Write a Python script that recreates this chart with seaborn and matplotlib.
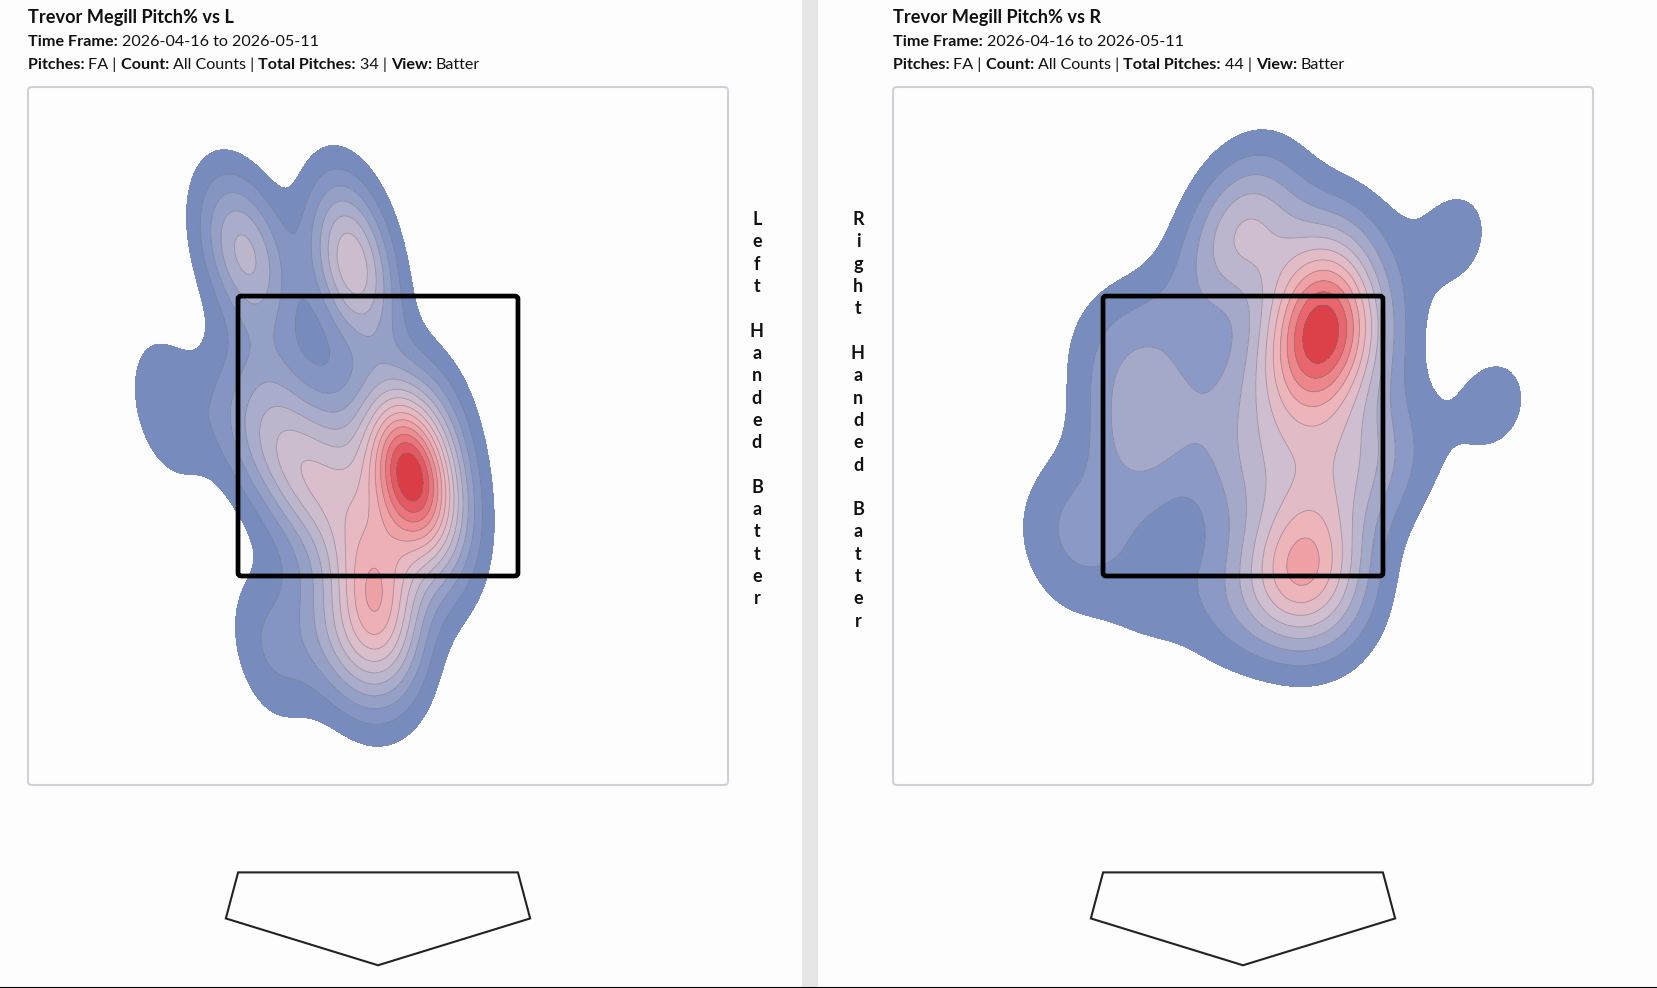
from matplotlib.lines import Line2D
from matplotlib.patches import FancyBboxPatch, Polygon, Rectangle
import matplotlib.pyplot as plt
import numpy as np
import pandas as pd
import seaborn as sns
from seaborn._statistics import KDE

# pitch locations, feet from the plate centre / feet above the plate
left_x = [-0.67, -0.61, -0.75, -0.14, -0.17, -0.09, -0.12, -1.06, 0.12, 0.15, 0.18, 0.13,
          0.17, 0.09, 0.19, 0.31, -0.52, -0.52, -0.37, -0.33, -0.70, -0.19, -0.05, -0.17,
          -0.03, 0.01, 0.04, -0.07, 0.09, -0.13, -0.55, -0.30, 0.26, 0.36]
left_z = [3.18, 3.06, 3.18, 3.24, 3.03, 2.93, 3.14, 2.35, 2.11, 2.07, 2.01, 2.03,
          1.95, 1.98, 2.13, 2.30, 2.42, 2.04, 2.04, 1.94, 2.28, 1.88, 1.62, 2.19,
          1.43, 1.33, 1.23, 1.18, 1.53, 1.10, 1.13, 1.25, 1.68, 1.88]

right_x = [0.38, 0.41, 0.37, 0.43, 0.39, 0.33, 0.46, 0.44, 0.36, 0.28, 0.52, 0.38, 0.10, 0.60,
           0.28, 0.33, 0.26, 0.36, 0.23, 0.44, 0.16, 0.08, 0.28, -0.02, 0.49, 1.07, 1.27, 0.76,
           -0.35, -0.08, -0.48, -0.50, 0.00, -0.17, -0.58, -0.93, -0.78, -0.43, -0.07, 0.50,
           -0.68, -0.02, 0.10, 0.64]
right_z = [2.88, 2.80, 2.72, 2.67, 2.60, 2.75, 2.75, 2.93, 2.52, 2.29, 2.00, 2.09, 2.10, 2.20,
           1.73, 1.63, 1.53, 1.43, 1.38, 1.53, 1.58, 3.45, 3.15, 3.20, 3.15, 3.22, 2.37, 2.04,
           2.80, 3.15, 2.29, 2.05, 3.25, 2.34, 2.39, 1.83, 1.58, 1.45, 1.36, 1.32,
           2.69, 1.99, 2.55, 2.64]

left_title = "Trevor Megill Pitch% vs L"
right_title = "Trevor Megill Pitch% vs R"
time_frame = "2026-04-16 to 2026-05-11"
left_total = "34"
right_total = "44"
left_side = "Left Handed Batter"
right_side = "Right Handed Batter"

W, H = 1658, 988
FT = 197.6  # px per foot
BW = 0.78

sns.set_theme(style="white")
plt.rcParams["font.family"] = ["Lato", "DejaVu Sans"]

BG = "#fdfdfd"
cmap = sns.blend_palette(["#7088BA", "#8C9AC6", "#B4B3CC", "#D4C0CF", "#EDB8BF", "#F09A9E",
                          "#E96A70", "#D62E38"], as_cmap=True)

fig = plt.figure(figsize=(W / 100, H / 100), dpi=100, facecolor=BG)


def runs(x, y, parts, size):
    # bold / regular pieces on one line, each placed after the previous
    rend = fig.canvas.get_renderer()
    for s, bold in parts:
        t = fig.text(x / W, 1 - y / H, s, fontsize=size, va="baseline", color="#111111",
                     fontweight="bold" if bold else "normal")
        x = t.get_window_extent(rend).x1


def even_levels(xs, zs, n):
    # seaborn wants iso-proportions, the reference has evenly spaced densities
    dens, _ = KDE(bw_adjust=BW, gridsize=250, cut=4)(np.array(xs), np.array(zs))
    steps = dens.max() * np.arange(1, n) / n
    props = [dens[dens < v].sum() / dens.sum() for v in steps]
    return props + [1]


def panel(x0, xs, zs, title, total, n):
    ax = fig.add_axes([x0 / W, 1 - 785 / H, 700 / W, 698 / H])
    df = pd.DataFrame({"x": xs, "z": zs})
    levels = even_levels(xs, zs, n)
    sns.kdeplot(data=df, x="x", y="z", fill=True, levels=levels, cmap=cmap, gridsize=250,
                cut=4, bw_adjust=BW, ax=ax)
    sns.kdeplot(data=df, x="x", y="z", levels=levels[1:-1], colors="#6f6f80", linewidths=0.6,
                alpha=0.55, gridsize=250, cut=4, bw_adjust=BW, ax=ax)
    ax.set_xlim(-350 / FT, 350 / FT)
    ax.set_ylim(1.5 - 209 / FT, 1.5 + 489 / FT)
    ax.set_xticks([])
    ax.set_yticks([])
    ax.set_xlabel("")
    ax.set_ylabel("")
    ax.set_facecolor(BG)
    for s in ax.spines.values():
        s.set_visible(False)
    # panel frame
    ax.add_patch(FancyBboxPatch((-350 / FT, 1.5 - 209 / FT), 700 / FT, 698 / FT,
                                boxstyle="round,pad=0,rounding_size=0.02", fc="none",
                                ec="#ced2d8", lw=1.5, clip_on=False, zorder=4))
    # strike zone
    ax.add_patch(FancyBboxPatch((-17 / 24, 1.5), 17 / 12, 17 / 12,
                                boxstyle="round,pad=0,rounding_size=0.015", fc="none",
                                ec="black", lw=3.4, zorder=5))
    # home plate
    ax.add_patch(Polygon([(-0.708, 0), (0.708, 0), (0.77, -0.233), (0, -0.47), (-0.77, -0.233)],
                         closed=True, fc="none", ec="#222222", lw=1.5, clip_on=False))
    runs(x0, 23, [(title, True)], 13.1)
    runs(x0, 46, [("Time Frame: ", True), (time_frame, False)], 11.6)
    runs(x0, 69, [("Pitches: ", True), ("FA | ", False), ("Count: ", True),
                  ("All Counts | ", False), ("Total Pitches: ", True), (total + " | ", False),
                  ("View: ", True), ("Batter", False)], 11.6)
    return ax


fig.canvas.draw()
panel(28, left_x, left_z, left_title, left_total, 15)
panel(893, right_x, right_z, right_title, right_total, 12)

# side labels, one letter per line
fig.text(757 / W, 1 - 211 / H, "\n".join(left_side), ha="center", va="top", fontsize=13,
         fontweight="bold", linespacing=1.38, color="#111111")
fig.text(858 / W, 1 - 211 / H, "\n".join(right_side), ha="center", va="top", fontsize=13,
         fontweight="bold", linespacing=1.38, color="#111111")

# page divider and bottom edge
fig.add_artist(Rectangle((802 / W, 0), 16 / W, 1, transform=fig.transFigure, fc="#e6e6e6",
                         ec="none"))
fig.add_artist(Line2D([0, 1], [0.5 / H, 0.5 / H], transform=fig.transFigure, color="black", lw=1.5))

fig.savefig("out.png", dpi=100, facecolor=BG)
plt.close(fig)
